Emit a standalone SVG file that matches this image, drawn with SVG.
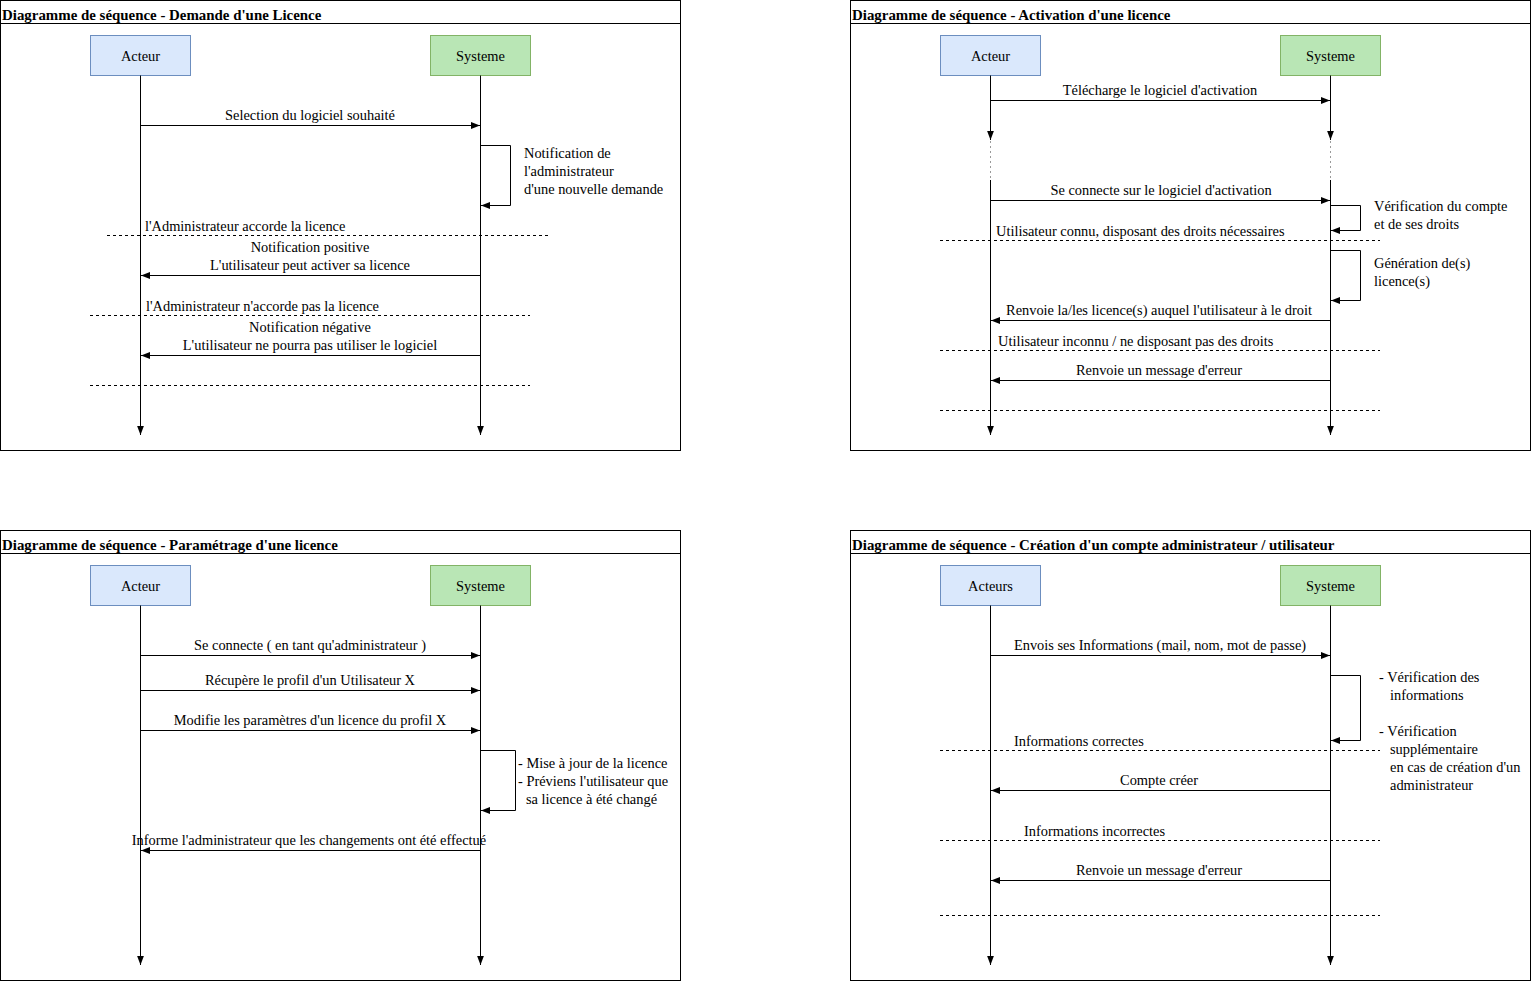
<svg xmlns="http://www.w3.org/2000/svg" width="1531" height="982" viewBox="0 0 1531 982">
  <defs>
    <marker id="arr" viewBox="0 0 9 8" refX="9" refY="4" markerWidth="9" markerHeight="8" markerUnits="userSpaceOnUse" orient="auto">
      <path d="M0,0.6 L9,4 L0,7.4 Z" fill="#000"/>
    </marker>
    <style>
      text { font-family: "Liberation Serif", "Times New Roman", serif; font-size: 14.4px; fill: #000; }
      .title { font-weight: bold; font-size: 14.9px; }
      .mid { text-anchor: middle; }
      .frame { fill: #fff; stroke: #000; stroke-width: 1; }
      .actor { fill: #dae8fc; stroke: #6c8ebf; stroke-width: 1; }
      .sys { fill: #b9e6b5; stroke: #82b366; stroke-width: 1; }
      .life { fill: none; stroke: #000; stroke-width: 1; marker-end: url(#arr); }
      .msg { fill: none; stroke: #000; stroke-width: 1; marker-end: url(#arr); }
      .dash { fill: none; stroke: #000; stroke-width: 1; stroke-dasharray: 3 3; }
      .dot { fill: none; stroke: #999; stroke-width: 1; stroke-dasharray: 2 3; }
    </style>
  </defs>
  <rect width="1531" height="982" fill="#fff"/>

  <!-- Frame 1: Demande d'une licence -->
  <g id="frame-demande">
    <rect class="frame" x="0.5" y="0.5" width="680" height="450"/>
    <line x1="0.5" y1="23.5" x2="680.5" y2="23.5" stroke="#000"/>
    <text class="title" x="2" y="20">Diagramme de séquence - Demande d'une Licence</text>
  </g>
  <g id="d1-acteur"><rect class="actor" x="90.5" y="35.5" width="100" height="40"/><text class="mid" x="140.5" y="61">Acteur</text></g>
  <g id="d1-systeme"><rect class="sys" x="430.5" y="35.5" width="100" height="40"/><text class="mid" x="480.5" y="61">Systeme</text></g>
  <g id="d1-connectors">
    <path class="life" d="M140.5,75.5 V435"/>
    <path class="life" d="M480.5,75.5 V435"/>
    <path class="msg" d="M140.5,125.5 H480"/>
    <text class="mid" x="310" y="120">Selection du logiciel souhaité</text>
    <path class="msg" d="M480.5,145.5 H510.5 V205.5 H481"/>
    <text x="524" y="158">Notification de</text>
    <text x="524" y="176">l'administrateur</text>
    <text x="524" y="194">d'une nouvelle demande</text>
    <path class="dash" d="M107,235.5 H548"/>
    <text x="145" y="231">l'Administrateur accorde la licence</text>
    <path class="msg" d="M480.5,275.5 H141"/>
    <text class="mid" x="310" y="252">Notification positive</text>
    <text class="mid" x="310" y="270">L'utilisateur peut activer sa licence</text>
    <path class="dash" d="M90,315.5 H530"/>
    <text x="146" y="311">l'Administrateur n'accorde pas la licence</text>
    <path class="msg" d="M480.5,355.5 H141"/>
    <text class="mid" x="310" y="332">Notification négative</text>
    <text class="mid" x="310" y="350">L'utilisateur ne pourra pas utiliser le logiciel</text>
    <path class="dash" d="M90,385.5 H530"/>
  </g>

  <!-- Frame 2: Activation d'une licence -->
  <g id="frame-activation">
    <rect class="frame" x="850.5" y="0.5" width="680" height="450"/>
    <line x1="850.5" y1="23.5" x2="1530.5" y2="23.5" stroke="#000"/>
    <text class="title" x="852" y="20">Diagramme de séquence - Activation d'une licence</text>
  </g>
  <g id="d2-acteur"><rect class="actor" x="940.5" y="35.5" width="100" height="40"/><text class="mid" x="990.5" y="61">Acteur</text></g>
  <g id="d2-systeme"><rect class="sys" x="1280.5" y="35.5" width="100" height="40"/><text class="mid" x="1330.5" y="61">Systeme</text></g>
  <g id="d2-connectors">
    <path class="life" d="M990.5,75.5 V140"/>
    <path class="life" d="M1330.5,75.5 V140"/>
    <path class="dot" d="M990.5,141 V180"/>
    <path class="dot" d="M1330.5,141 V180"/>
    <path class="life" d="M990.5,180 V435"/>
    <path class="life" d="M1330.5,180 V435"/>
    <path class="msg" d="M990.5,100.5 H1330"/>
    <text class="mid" x="1160" y="95">Télécharge le logiciel d'activation</text>
    <path class="msg" d="M990.5,200.5 H1330"/>
    <text class="mid" x="1161" y="195">Se connecte sur le logiciel d'activation</text>
    <path class="msg" d="M1330.5,205.5 H1360.5 V230.5 H1331"/>
    <text x="1374" y="211">Vérification du compte</text>
    <text x="1374" y="229">et de ses droits</text>
    <path class="dash" d="M940,240.5 H1380"/>
    <text x="996" y="236">Utilisateur connu, disposant des droits nécessaires</text>
    <path class="msg" d="M1330.5,250.5 H1360.5 V300.5 H1331"/>
    <text x="1374" y="268">Génération de(s)</text>
    <text x="1374" y="286">licence(s)</text>
    <path class="msg" d="M1330.5,320.5 H991"/>
    <text class="mid" x="1159" y="315">Renvoie la/les licence(s) auquel l'utilisateur à le droit</text>
    <path class="dash" d="M940,350.5 H1380"/>
    <text x="998" y="346">Utilisateur inconnu / ne disposant pas des droits</text>
    <path class="msg" d="M1330.5,380.5 H991"/>
    <text class="mid" x="1159" y="375">Renvoie un message d'erreur</text>
    <path class="dash" d="M940,410.5 H1380"/>
  </g>

  <!-- Frame 3: Paramétrage d'une licence -->
  <g id="frame-parametrage">
    <rect class="frame" x="0.5" y="530.5" width="680" height="450"/>
    <line x1="0.5" y1="553.5" x2="680.5" y2="553.5" stroke="#000"/>
    <text class="title" x="2" y="550">Diagramme de séquence - Paramétrage d'une licence</text>
  </g>
  <g id="d3-acteur"><rect class="actor" x="90.5" y="565.5" width="100" height="40"/><text class="mid" x="140.5" y="591">Acteur</text></g>
  <g id="d3-systeme"><rect class="sys" x="430.5" y="565.5" width="100" height="40"/><text class="mid" x="480.5" y="591">Systeme</text></g>
  <g id="d3-connectors">
    <path class="life" d="M140.5,605.5 V965"/>
    <path class="life" d="M480.5,605.5 V965"/>
    <path class="msg" d="M140.5,655.5 H480"/>
    <text class="mid" x="310" y="650">Se connecte ( en tant qu'administrateur )</text>
    <path class="msg" d="M140.5,690.5 H480"/>
    <text class="mid" x="310" y="685">Récupère le profil d'un Utilisateur X</text>
    <path class="msg" d="M140.5,730.5 H480"/>
    <text class="mid" x="310" y="725">Modifie les paramètres d'un licence du profil X</text>
    <path class="msg" d="M480.5,750.5 H515.5 V810.5 H481"/>
    <text x="518" y="768">- Mise à jour de la licence</text>
    <text x="518" y="786">- Préviens l'utilisateur que</text>
    <text x="526" y="804">sa licence à été changé</text>
    <path class="msg" d="M480.5,850.5 H141"/>
    <text class="mid" x="309" y="845">Informe l'administrateur que les changements ont été effectué</text>
  </g>

  <!-- Frame 4: Création d'un compte -->
  <g id="frame-creation">
    <rect class="frame" x="850.5" y="530.5" width="680" height="450"/>
    <line x1="850.5" y1="553.5" x2="1530.5" y2="553.5" stroke="#000"/>
    <text class="title" x="852" y="550">Diagramme de séquence - Création d'un compte administrateur / utilisateur</text>
  </g>
  <g id="d4-acteurs"><rect class="actor" x="940.5" y="565.5" width="100" height="40"/><text class="mid" x="990.5" y="591">Acteurs</text></g>
  <g id="d4-systeme"><rect class="sys" x="1280.5" y="565.5" width="100" height="40"/><text class="mid" x="1330.5" y="591">Systeme</text></g>
  <g id="d4-connectors">
    <path class="life" d="M990.5,605.5 V965"/>
    <path class="life" d="M1330.5,605.5 V965"/>
    <path class="msg" d="M990.5,655.5 H1330"/>
    <text class="mid" x="1160" y="650">Envois ses Informations (mail, nom, mot de passe)</text>
    <path class="msg" d="M1330.5,675.5 H1360.5 V740.5 H1331"/>
    <text x="1379" y="682">- Vérification des</text>
    <text x="1390" y="700">informations</text>
    <text x="1379" y="736">- Vérification</text>
    <text x="1390" y="754">supplémentaire</text>
    <text x="1390" y="772">en cas de création d'un</text>
    <text x="1390" y="790">administrateur</text>
    <path class="dash" d="M940,750.5 H1380"/>
    <text x="1014" y="746">Informations correctes</text>
    <path class="msg" d="M1330.5,790.5 H991"/>
    <text class="mid" x="1159" y="785">Compte créer</text>
    <path class="dash" d="M940,840.5 H1380"/>
    <text x="1024" y="836">Informations incorrectes</text>
    <path class="msg" d="M1330.5,880.5 H991"/>
    <text class="mid" x="1159" y="875">Renvoie un message d'erreur</text>
    <path class="dash" d="M940,915.5 H1380"/>
  </g>
</svg>
